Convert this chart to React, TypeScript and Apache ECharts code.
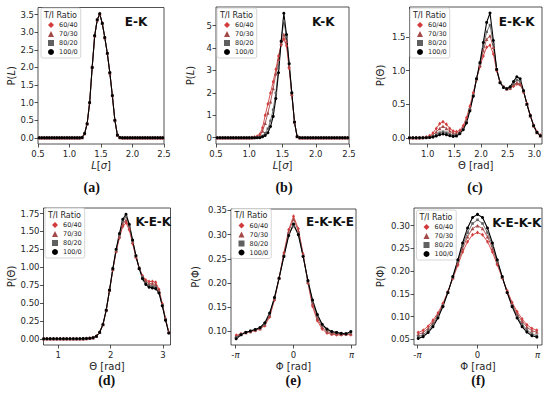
import React, { useEffect, useRef } from 'react';
import * as echarts from 'echarts';

const FONT = 'DejaVu Sans';
const INK = '#262626';
const RATIOS = ['60/40', '70/30', '80/20', '100/0'];
const COLORS = ['#d23c3c', '#a54848', '#606060', '#000000'];
const SYMBOLS = ['diamond', 'triangle', 'rect', 'circle'];
const SYMBOL_SIZES: any[] = [[3, 4], 3.5, 2.6, 3];

// ---------- bond length panels (a), (b) ----------
const bondX = [0.52, 0.56, 0.60, 0.64, 0.68, 0.72, 0.76, 0.80, 0.84, 0.88, 0.92, 0.96, 1.00, 1.04, 1.08, 1.12, 1.16, 1.20, 1.24, 1.28, 1.32, 1.36, 1.40, 1.44, 1.48, 1.52, 1.56, 1.60, 1.64, 1.68, 1.72, 1.76, 1.80, 1.84, 1.88, 1.92, 1.96, 2.00, 2.04, 2.08, 2.12, 2.16, 2.20, 2.24, 2.28, 2.32, 2.36, 2.40, 2.44, 2.48];
// E-K: all four ratios coincide
const ekValues = [0, 0, 0, 0, 0, 0, 0, 0, 0, 0, 0, 0, 0, 0, 0, 0, 0, 0.01, 0.12, 0.4, 1.0, 2.0, 2.9, 3.35, 3.52, 3.25, 2.85, 2.4, 1.85, 1.2, 0.5, 0.08, 0.01, 0, 0, 0, 0, 0, 0, 0, 0, 0, 0, 0, 0, 0, 0, 0, 0, 0];
const kk60 = [0, 0, 0, 0, 0, 0, 0, 0, 0, 0, 0, 0, 0, 0.01, 0.03, 0.07, 0.16, 0.45, 1.0, 1.5, 2.0, 2.5, 3.05, 3.65, 4.15, 4.4, 4.1, 3.1, 1.9, 0.7, 0.05, 0, 0, 0, 0, 0, 0, 0, 0, 0, 0, 0, 0, 0, 0, 0, 0, 0, 0, 0];
const kk70 = [0, 0, 0, 0, 0, 0, 0, 0, 0, 0, 0, 0, 0, 0, 0.01, 0.03, 0.1, 0.3, 0.65, 1.1, 1.6, 2.2, 2.85, 3.5, 4.2, 4.6, 4.3, 3.2, 1.95, 0.7, 0.05, 0, 0, 0, 0, 0, 0, 0, 0, 0, 0, 0, 0, 0, 0, 0, 0, 0, 0, 0];
const kk80 = [0, 0, 0, 0, 0, 0, 0, 0, 0, 0, 0, 0, 0, 0, 0, 0, 0.02, 0.08, 0.2, 0.4, 0.75, 1.25, 2.0, 3.1, 4.3, 5.2, 4.5, 3.3, 2.0, 0.7, 0.05, 0, 0, 0, 0, 0, 0, 0, 0, 0, 0, 0, 0, 0, 0, 0, 0, 0, 0, 0];
const kk100 = [0, 0, 0, 0, 0, 0, 0, 0, 0, 0, 0, 0, 0, 0, 0, 0, 0, 0.04, 0.1, 0.22, 0.5, 0.95, 1.75, 2.9, 4.3, 5.55, 4.6, 3.3, 2.0, 0.7, 0.05, 0, 0, 0, 0, 0, 0, 0, 0, 0, 0, 0, 0, 0, 0, 0, 0, 0, 0, 0];

// ---------- bond angle panels (c), (d) ----------
const thetaX = [0.660, 0.723, 0.785, 0.848, 0.911, 0.974, 1.037, 1.100, 1.162, 1.225, 1.288, 1.351, 1.414, 1.477, 1.539, 1.602, 1.665, 1.728, 1.791, 1.854, 1.916, 1.979, 2.042, 2.105, 2.168, 2.231, 2.293, 2.356, 2.419, 2.482, 2.545, 2.608, 2.670, 2.733, 2.796, 2.859, 2.922, 2.985, 3.047, 3.110];
const ekk60 = [0, 0, 0, 0.002, 0.005, 0.012, 0.03, 0.07, 0.14, 0.21, 0.24, 0.2, 0.14, 0.1, 0.09, 0.11, 0.18, 0.3, 0.47, 0.67, 0.88, 1.06, 1.22, 1.35, 1.38, 1.25, 1.0, 0.83, 0.76, 0.73, 0.74, 0.77, 0.8, 0.79, 0.69, 0.51, 0.34, 0.19, 0.09, 0.04];
const ekk70 = [0, 0, 0, 0, 0.003, 0.006, 0.015, 0.04, 0.09, 0.14, 0.17, 0.14, 0.1, 0.07, 0.065, 0.09, 0.15, 0.26, 0.44, 0.65, 0.88, 1.08, 1.3, 1.47, 1.52, 1.35, 1.03, 0.83, 0.76, 0.73, 0.74, 0.79, 0.82, 0.8, 0.69, 0.5, 0.33, 0.18, 0.08, 0.03];
const ekk80 = [0, 0, 0, 0, 0, 0.002, 0.006, 0.02, 0.045, 0.075, 0.09, 0.075, 0.05, 0.035, 0.038, 0.07, 0.13, 0.24, 0.42, 0.63, 0.88, 1.1, 1.36, 1.58, 1.68, 1.4, 1.02, 0.83, 0.76, 0.73, 0.75, 0.81, 0.86, 0.84, 0.7, 0.5, 0.33, 0.18, 0.08, 0.03];
const ekk100 = [0, 0, 0, 0, 0, 0, 0.003, 0.01, 0.025, 0.045, 0.055, 0.045, 0.03, 0.02, 0.025, 0.06, 0.12, 0.22, 0.4, 0.62, 0.88, 1.12, 1.42, 1.72, 1.86, 1.45, 1.02, 0.82, 0.75, 0.73, 0.76, 0.84, 0.91, 0.88, 0.7, 0.5, 0.33, 0.18, 0.08, 0.03];
const thetaXd = thetaX.slice(1);
const kek60 = [0, 0, 0, 0, 0, 0, 0, 0, 0, 0, 0, 0.001, 0.002, 0.004, 0.009, 0.017, 0.037, 0.09, 0.2, 0.4, 0.67, 0.96, 1.22, 1.41, 1.57, 1.62, 1.52, 1.33, 1.14, 0.99, 0.88, 0.82, 0.8, 0.8, 0.79, 0.69, 0.49, 0.28, 0.09];
const kek70 = [0, 0, 0, 0, 0, 0, 0, 0, 0, 0, 0, 0.001, 0.002, 0.004, 0.008, 0.016, 0.036, 0.09, 0.2, 0.4, 0.68, 0.97, 1.23, 1.43, 1.6, 1.66, 1.55, 1.35, 1.15, 0.99, 0.87, 0.8, 0.77, 0.77, 0.76, 0.67, 0.48, 0.27, 0.09];
const kek80 = [0, 0, 0, 0, 0, 0, 0, 0, 0, 0, 0, 0.001, 0.002, 0.004, 0.008, 0.015, 0.035, 0.09, 0.2, 0.4, 0.68, 0.98, 1.24, 1.45, 1.64, 1.71, 1.58, 1.37, 1.16, 0.99, 0.86, 0.78, 0.74, 0.73, 0.72, 0.65, 0.47, 0.27, 0.08];
const kek100 = [0, 0, 0, 0, 0, 0, 0, 0, 0, 0, 0, 0.001, 0.002, 0.004, 0.008, 0.015, 0.035, 0.09, 0.2, 0.4, 0.68, 0.98, 1.25, 1.47, 1.67, 1.74, 1.6, 1.38, 1.16, 0.98, 0.84, 0.76, 0.72, 0.71, 0.7, 0.64, 0.46, 0.26, 0.08];

// ---------- dihedral panels (e), (f) ----------
const phiX = [-3.1, -2.84, -2.58, -2.33, -2.07, -1.81, -1.55, -1.29, -1.03, -0.78, -0.52, -0.26, 0, 0.26, 0.52, 0.78, 1.03, 1.29, 1.55, 1.81, 2.07, 2.33, 2.58, 2.84, 3.1];
const ekke60 = [0.092, 0.095, 0.098, 0.1, 0.102, 0.105, 0.112, 0.13, 0.165, 0.21, 0.262, 0.31, 0.338, 0.312, 0.26, 0.2, 0.152, 0.122, 0.105, 0.097, 0.094, 0.093, 0.093, 0.094, 0.093];
const ekke70 = [0.09, 0.094, 0.098, 0.1, 0.103, 0.106, 0.114, 0.133, 0.167, 0.21, 0.26, 0.306, 0.332, 0.308, 0.258, 0.202, 0.157, 0.127, 0.109, 0.1, 0.096, 0.095, 0.094, 0.095, 0.095];
const ekke80 = [0.088, 0.094, 0.098, 0.101, 0.104, 0.107, 0.116, 0.136, 0.169, 0.21, 0.256, 0.3, 0.318, 0.302, 0.256, 0.204, 0.162, 0.132, 0.113, 0.103, 0.099, 0.097, 0.096, 0.096, 0.098];
const ekke100 = [0.085, 0.093, 0.098, 0.101, 0.104, 0.108, 0.118, 0.138, 0.17, 0.21, 0.255, 0.298, 0.322, 0.3, 0.255, 0.205, 0.165, 0.135, 0.115, 0.105, 0.1, 0.098, 0.096, 0.095, 0.1];
const kekk60 = [0.065, 0.07, 0.079, 0.092, 0.108, 0.129, 0.155, 0.184, 0.213, 0.242, 0.265, 0.28, 0.285, 0.28, 0.265, 0.242, 0.214, 0.185, 0.157, 0.131, 0.111, 0.095, 0.082, 0.074, 0.07];
const kekk70 = [0.061, 0.065, 0.074, 0.087, 0.104, 0.126, 0.154, 0.186, 0.218, 0.25, 0.276, 0.294, 0.3, 0.294, 0.276, 0.25, 0.219, 0.187, 0.155, 0.128, 0.106, 0.09, 0.077, 0.069, 0.066];
const kekk80 = [0.056, 0.06, 0.069, 0.082, 0.1, 0.124, 0.153, 0.187, 0.222, 0.256, 0.285, 0.305, 0.313, 0.305, 0.285, 0.256, 0.222, 0.187, 0.153, 0.124, 0.101, 0.083, 0.071, 0.062, 0.058];
const kekk100 = [0.052, 0.056, 0.065, 0.078, 0.097, 0.122, 0.153, 0.188, 0.225, 0.262, 0.295, 0.318, 0.325, 0.318, 0.295, 0.262, 0.225, 0.188, 0.153, 0.122, 0.097, 0.078, 0.066, 0.058, 0.055];

// ---------- tick values ----------
const bondTicks = [0.5, 1.0, 1.5, 2.0, 2.5];
const yTicksA = [0, 0.5, 1.0, 1.5, 2.0, 2.5, 3.0, 3.5];
const yTicksB = [0, 1, 2, 3, 4, 5];
const xTicksC = [1.0, 1.5, 2.0, 2.5, 3.0];
const yTicksC = [0, 0.5, 1.0, 1.5];
const xTicksD = [1, 2, 3];
const yTicksD = [0, 0.25, 0.5, 0.75, 1.0, 1.25, 1.5, 1.75];
const phiTicks = [-Math.PI, 0, Math.PI];
const yTicksE = [0.10, 0.15, 0.20, 0.25, 0.30, 0.35];
const yTicksF = [0.05, 0.10, 0.15, 0.20, 0.25, 0.30];

const fixed = (d: number) => (v: number) => v.toFixed(d);
const piFmt = (v: number) => (Math.abs(v) < 1e-9 ? '0' : v < 0 ? '-{i|π}' : '{i|π}');

const PANELS = [
  { grid: { left: 38, top: 7.5, width: 126, height: 136.5 }, xMin: 0.5, xMax: 2.5, yMin: -0.176, yMax: 3.70,
    xTicks: bondTicks, xFmt: fixed(1), yTicks: yTicksA, yFmt: fixed(1), xName: '{i|L}[{i|σ}]', yName: 'P({i|L})',
    xGap: 15.5, yGap: 22, title: 'E-K', tx: 136, ty: 21.7, lg: { left: 41, top: 8 }, sub: '(a)', sx: 91.7, sy: 187,
    xs: bondX, ys: [ekValues, ekValues, ekValues, ekValues] },
  { grid: { left: 216, top: 7, width: 133, height: 137 }, xMin: 0.5, xMax: 2.5, yMin: -0.28, yMax: 5.83,
    xTicks: bondTicks, xFmt: fixed(1), yTicks: yTicksB, yFmt: fixed(0), xName: '{i|L}[{i|σ}]', yName: 'P({i|L})',
    xGap: 15.5, yGap: 21, title: 'K-K', tx: 323.3, ty: 21.7, lg: { left: 217, top: 8 }, sub: '(b)', sx: 284, sy: 187,
    xs: bondX, ys: [kk60, kk70, kk80, kk100] },
  { grid: { left: 409.5, top: 7, width: 132.5, height: 137 }, xMin: 0.66, xMax: Math.PI, yMin: -0.093, yMax: 1.95,
    xTicks: xTicksC, xFmt: fixed(1), yTicks: yTicksC, yFmt: fixed(1), xName: 'Θ [rad]', yName: 'P(Θ)',
    xGap: 15.5, yGap: 24, title: 'E-K-K', tx: 516.7, ty: 21.7, lg: { left: 410, top: 8 }, sub: '(c)', sx: 475, sy: 187,
    xs: thetaX, ys: [ekk60, ekk70, ekk80, ekk100] },
  { grid: { left: 43.5, top: 208, width: 127, height: 137 }, xMin: 0.72, xMax: Math.PI, yMin: -0.087, yMax: 1.827,
    xTicks: xTicksD, xFmt: fixed(0), yTicks: yTicksD, yFmt: fixed(2), xName: 'Θ [rad]', yName: 'P(Θ)',
    xGap: 15.5, yGap: 27, title: 'K-E-K', tx: 153.3, ty: 221.7, lg: { left: 45, top: 208 }, sub: '(d)', sx: 106.7, sy: 380,
    xs: thetaXd, ys: [kek60, kek70, kek80, kek100] },
  { grid: { left: 231, top: 209, width: 125, height: 136 }, xMin: -3.38, xMax: 3.38, yMin: 0.072, yMax: 0.353,
    xTicks: phiTicks, xFmt: piFmt, yTicks: yTicksE, yFmt: fixed(2), xName: 'Φ [rad]', yName: 'P(Φ)',
    xGap: 15.5, yGap: 31, title: 'E-K-K-E', tx: 330, ty: 222.3, lg: { left: 231.5, top: 208.5 }, sub: '(e)', sx: 293.3, sy: 380,
    xs: phiX, ys: [ekke60, ekke70, ekke80, ekke100] },
  { grid: { left: 414, top: 208, width: 128, height: 137 }, xMin: -3.32, xMax: 3.37, yMin: 0.0376, yMax: 0.339,
    xTicks: phiTicks, xFmt: piFmt, yTicks: yTicksF, yFmt: fixed(2), xName: 'Φ [rad]', yName: 'P(Φ)',
    xGap: 15.5, yGap: 29, title: 'K-E-K-K', tx: 516.7, ty: 222.7, lg: { left: 416.5, top: 210 }, sub: '(f)', sx: 478.3, sy: 380,
    xs: phiX, ys: [kekk60, kekk70, kekk80, kekk100] },
];

export default function App() {
  const ref = useRef<HTMLDivElement>(null);
  useEffect(() => {
    const chart = echarts.init(ref.current!, null, { renderer: 'svg' });
    const italic = { fontStyle: 'italic', fontFamily: FONT, color: INK };
    const option: any = {
      animation: false,
      backgroundColor: '#ffffff',
      textStyle: { fontFamily: FONT },
      grid: PANELS.map((p) => ({ ...p.grid, show: true, borderColor: INK, borderWidth: 0.8, backgroundColor: 'transparent' })),
      xAxis: PANELS.map((p, i) => ({
        type: 'value', gridIndex: i, min: p.xMin, max: p.xMax, position: 'bottom',
        name: p.xName, nameLocation: 'middle', nameGap: p.xGap,
        nameTextStyle: { fontSize: 10, lineHeight: 11, color: INK, fontFamily: FONT, rich: { i: { ...italic, fontSize: 10, lineHeight: 11 } } },
        axisLine: { show: false, onZero: false }, splitLine: { show: false },
        axisTick: { show: true, length: 3.5, lineStyle: { color: INK, width: 0.8 }, customValues: p.xTicks },
        axisLabel: { customValues: p.xTicks, formatter: p.xFmt, fontSize: 8.5, color: INK, margin: 5, fontFamily: FONT,
          rich: { i: { ...italic, fontSize: 8.5 } } },
      })),
      yAxis: PANELS.map((p, i) => ({
        type: 'value', gridIndex: i, min: p.yMin, max: p.yMax, position: 'left',
        name: p.yName, nameLocation: 'middle', nameGap: p.yGap,
        nameTextStyle: { fontSize: 10, color: INK, fontFamily: FONT, rich: { i: { ...italic, fontSize: 10 } } },
        axisLine: { show: false, onZero: false }, splitLine: { show: false },
        axisTick: { show: true, length: 3.5, lineStyle: { color: INK, width: 0.8 }, customValues: p.yTicks },
        axisLabel: { customValues: p.yTicks, formatter: p.yFmt, fontSize: 8.5, color: INK, margin: 4, fontFamily: FONT },
      })),
      legend: PANELS.map((p) => ({
        show: true, orient: 'vertical', left: p.lg.left, top: p.lg.top,
        padding: [13, 3, 2, 7], itemWidth: 6, itemHeight: 6, itemGap: 1,
        borderColor: '#cccccc', borderWidth: 0.8, borderRadius: 2, backgroundColor: 'rgba(255,255,255,0.85)',
        selectedMode: false, z: 10,
        textStyle: { fontSize: 6.5, lineHeight: 8, color: INK, fontFamily: FONT },
        data: RATIOS.map((n, k) => ({ name: n, icon: SYMBOLS[k] })),
      })),
      series: PANELS.flatMap((p, i) => p.ys.map((ys, k) => ({
        type: 'line', name: RATIOS[k], xAxisIndex: i, yAxisIndex: i,
        data: p.xs.map((x, j) => [x, ys[j]]),
        symbol: SYMBOLS[k], symbolSize: SYMBOL_SIZES[k], showSymbol: true, showAllSymbol: true,
        lineStyle: { width: k === 3 ? 1.1 : 0.9, color: COLORS[k] },
        itemStyle: { color: COLORS[k] },
        emphasis: { disabled: true }, silent: true,
      }))),
      graphic: [
        ...PANELS.map((p) => ({ type: 'text', x: p.lg.left + 19.5, y: p.lg.top + 7, z: 100,
          style: { text: 'T/I Ratio', fontSize: 8, fontFamily: FONT, fill: INK, align: 'center', verticalAlign: 'middle' } })),
        ...PANELS.map((p) => ({ type: 'text', x: p.tx, y: p.ty, z: 100,
          style: { text: p.title, fontSize: 12, fontWeight: 'bold', fontFamily: FONT, fill: '#111', align: 'center', verticalAlign: 'middle' } })),
        ...PANELS.map((p) => ({ type: 'text', x: p.sx, y: p.sy, z: 100,
          style: { text: p.sub, fontSize: 14, fontWeight: 'bold', fontFamily: 'Liberation Serif', fill: '#111', align: 'center', verticalAlign: 'middle' } })),
      ],
    };
    chart.setOption(option);
    return () => chart.dispose();
  }, []);
  return <div ref={ref} style={{ position: 'fixed', left: 0, top: 0, width: 550, height: 396, background: '#fff' }} />;
}
